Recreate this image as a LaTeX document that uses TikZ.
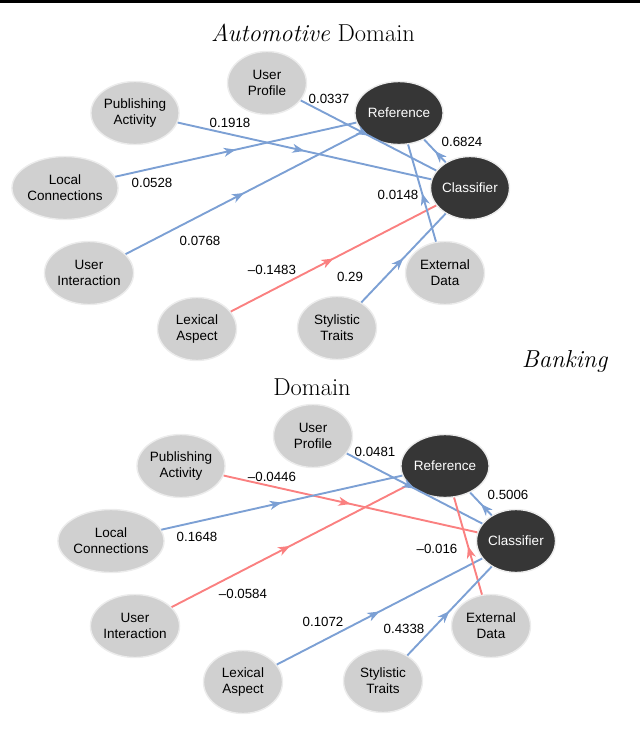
\documentclass[tikz,border=0pt]{standalone}
\usepackage{fontspec}
\newfontfamily\graphfont{Liberation Sans}
\usepackage{tikz}
\usetikzlibrary{shapes.geometric}
\usetikzlibrary{arrows.meta}
\usetikzlibrary{decorations.markings}

\definecolor{lightnode}{RGB}{208,208,208}
\definecolor{darknode}{RGB}{54,54,54}
\definecolor{noderim}{RGB}{236,236,236}
\definecolor{posedge}{RGB}{124,160,212}
\definecolor{negedge}{RGB}{250,128,128}

\begin{document}
\begin{tikzpicture}[x=1pt,y=-1pt,
  feature/.style={ellipse,fill=lightnode,draw=noderim,line width=1.4pt,
    minimum width=79pt,minimum height=63pt,inner sep=0pt,align=center,
    font=\graphfont\fontsize{13.5}{16}\selectfont},
  target/.style={feature,fill=darknode,text=white},
  weight/.style={inner sep=0pt,font=\graphfont\fontsize{13.3}{16}\selectfont},
  title/.style={inner sep=0pt,anchor=base,font=\fontsize{24.5}{28}\selectfont},
  link/.style={draw=#1,line width=1.9pt,postaction={decorate},
    decoration={markings,mark=at position 0.5 with
      {\arrow[#1]{Stealth[length=12pt,width=9pt,inset=3.5pt]}}}}]
  \useasboundingbox
    (0,0)
    rectangle
    (640,740);
  \fill
    (0,0)
    rectangle
    (640,2.5);
  \node[title] (atitle) at (313,41) {\textit{Automotive} Domain};
  \node[title] (btitlea) at (565,367) {\textit{Banking}};
  \node[title] (btitleb) at (312,395) {Domain};
  \node[target] (aref) at (399,113) {Reference};
  \node[target] (acls) at (470,188) {Classifier};
  \node[feature] (aprof) at (267,83) {User\\Profile};
  \node[feature] (apub) at (135,113) {Publishing\\Activity};
  \node[feature] (aloc) at (65,188) {Local\\Connections};
  \node[feature] (aint) at (89,273) {User\\Interaction};
  \node[feature] (alex) at (197,329) {Lexical\\Aspect};
  \node[feature] (asty) at (337,328) {Stylistic\\Traits};
  \node[feature] (aext) at (445,273) {External\\Data};
  \draw[link=posedge]
    (apub)
    --
    (acls);
  \draw[link=posedge]
    (aloc)
    --
    (aref);
  \draw[link=posedge]
    (aint)
    --
    (aref);
  \draw[link=negedge]
    (alex)
    --
    (acls);
  \draw[link=posedge]
    (aprof)
    --
    (acls);
  \draw[link=posedge]
    (acls)
    --
    (aref);
  \draw[link=posedge]
    (aext)
    --
    (aref);
  \draw[link=posedge]
    (asty)
    --
    (acls);
  \node[weight] (apubw) at (230,123) {0.1918};
  \node[weight] (alocw) at (152,183) {0.0528};
  \node[weight] (aintw) at (200,241) {0.0768};
  \node[weight] (alexw) at (272,270) {–0.1483};
  \node[weight] (aprofw) at (329,99) {0.0337};
  \node[weight] (aclsw) at (462,142) {0.6824};
  \node[weight] (aextw) at (398,195) {0.0148};
  \node[weight] (astyw) at (350,277) {0.29};
  \node[target] (bref) at (445,466) {Reference};
  \node[target] (bcls) at (516,541) {Classifier};
  \node[feature] (bprof) at (313,436) {User\\Profile};
  \node[feature] (bpub) at (181,466) {Publishing\\Activity};
  \node[feature] (bloc) at (111,541) {Local\\Connections};
  \node[feature] (bint) at (135,626) {User\\Interaction};
  \node[feature] (blex) at (243,682) {Lexical\\Aspect};
  \node[feature] (bsty) at (383,681) {Stylistic\\Traits};
  \node[feature] (bext) at (491,626) {External\\Data};
  \draw[link=negedge]
    (bpub)
    --
    (bcls);
  \draw[link=posedge]
    (bloc)
    --
    (bref);
  \draw[link=negedge]
    (bint)
    --
    (bref);
  \draw[link=posedge]
    (blex)
    --
    (bcls);
  \draw[link=posedge]
    (bprof)
    --
    (bcls);
  \draw[link=posedge]
    (bcls)
    --
    (bref);
  \draw[link=negedge]
    (bext)
    --
    (bref);
  \draw[link=posedge]
    (bsty)
    --
    (bcls);
  \node[weight] (bpubw) at (272,477) {–0.0446};
  \node[weight] (blocw) at (197,537) {0.1648};
  \node[weight] (bintw) at (243,594) {–0.0584};
  \node[weight] (blexw) at (323,622) {0.1072};
  \node[weight] (bprofw) at (375,452) {0.0481};
  \node[weight] (bclsw) at (508,495) {0.5006};
  \node[weight] (bextw) at (437,549) {–0.016};
  \node[weight] (bstyw) at (404,629) {0.4338};
\end{tikzpicture}
\end{document}
